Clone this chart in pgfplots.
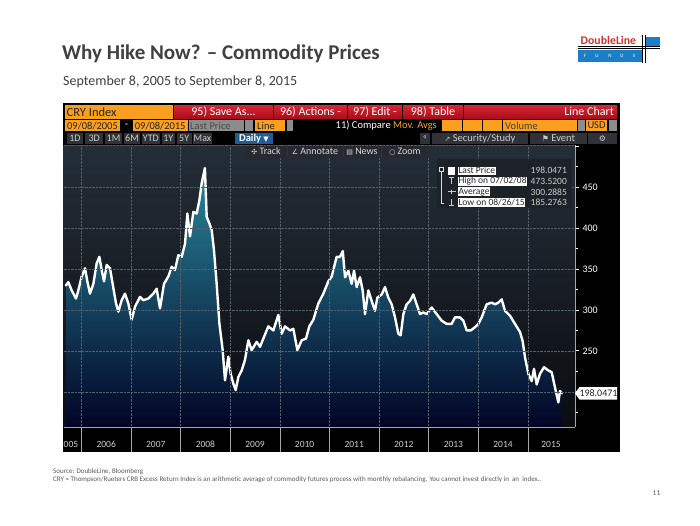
\documentclass[border=0pt]{standalone}
\usepackage{pgfplots}
\pgfplotsset{compat=1.18}
\usepackage{pgfplotstable}
\usepackage{fontspec}
\setmainfont{Carlito}
\newfontfamily\dejavu{DejaVu Sans}
\newcommand{\fs}[1]{\fontsize{#1}{#1}\selectfont}
\definecolor{titlegray}{RGB}{64,64,64}
\definecolor{bbredtop}{RGB}{214,40,54}
\definecolor{bbredbot}{RGB}{170,12,26}
\definecolor{bborange}{RGB}{250,160,30}
\definecolor{bbgray}{RGB}{140,140,140}
\definecolor{bbbtn}{RGB}{48,50,55}
\definecolor{bbtext}{RGB}{205,205,205}
\definecolor{bbblue}{RGB}{32,92,150}
\definecolor{plottop}{RGB}{36,46,56}
\definecolor{plotbot}{RGB}{10,12,16}
\definecolor{filltop}{RGB}{40,135,155}
\definecolor{fillmid}{RGB}{14,62,92}
\definecolor{fillbot}{RGB}{2,4,38}
\definecolor{gridc}{RGB}{85,95,105}
\definecolor{dlred}{RGB}{217,49,43}
\definecolor{dlblue}{RGB}{26,127,200}
\definecolor{footgray}{RGB}{89,89,89}
\definecolor{tbar}{RGB}{38,42,48}
\definecolor{legbg}{RGB}{28,34,40}

\pgfplotstableread{
year value
2005.686 330
2005.737 334
2005.804 324
2005.891 314
2005.938 324
2006.005 341
2006.073 351
2006.120 335
2006.173 320
2006.241 332
2006.308 357
2006.362 365
2006.409 349
2006.456 335
2006.509 355
2006.577 351
2006.630 332
2006.698 308
2006.745 298
2006.812 312
2006.879 320
2006.946 308
2007.013 288
2007.081 304
2007.181 316
2007.249 312
2007.349 314
2007.450 320
2007.517 326
2007.585 302
2007.665 332
2007.753 341
2007.820 353
2007.887 349
2007.954 367
2008.022 365
2008.089 381
2008.136 418
2008.190 390
2008.257 420
2008.324 418
2008.378 434
2008.425 455
2008.490 473.5
2008.526 414
2008.579 406
2008.626 398
2008.673 373
2008.727 332
2008.781 284
2008.848 251
2008.895 214
2008.962 243
2009.009 222
2009.063 210
2009.110 202
2009.164 218
2009.231 226
2009.298 239
2009.366 263
2009.433 251
2009.534 261
2009.601 255
2009.681 267
2009.769 280
2009.870 275
2009.970 294
2010.038 271
2010.105 280
2010.206 275
2010.273 277
2010.354 251
2010.441 263
2010.528 265
2010.595 280
2010.676 288
2010.777 308
2010.878 320
2010.978 335
2011.046 341
2011.146 365
2011.214 365
2011.270 372
2011.315 340
2011.382 348
2011.449 332
2011.496 348
2011.550 328
2011.617 340
2011.671 324
2011.718 295
2011.785 324
2011.852 311
2011.919 299
2011.966 315
2012.054 319
2012.121 328
2012.188 315
2012.255 307
2012.323 291
2012.390 271
2012.437 269
2012.491 295
2012.558 307
2012.625 311
2012.692 319
2012.759 307
2012.827 295
2012.894 297
2012.961 295
2013.062 303
2013.163 295
2013.263 287
2013.364 283
2013.465 283
2013.532 291
2013.633 291
2013.700 287
2013.768 275
2013.848 275
2013.936 279
2014.003 283
2014.070 291
2014.171 307
2014.271 309
2014.339 307
2014.406 309
2014.473 313
2014.540 299
2014.641 293
2014.742 283
2014.843 273
2014.896 262
2014.944 242
2015.011 222
2015.078 213
2015.125 228
2015.179 209
2015.246 222
2015.327 230
2015.414 226
2015.481 224
2015.549 205
2015.616 187
2015.649 201
2015.686 198.05
}\cry

\begin{document}
\begin{tikzpicture}
\begin{scope}[x=1pt,y=-1pt]
\fill[white] (0,0) rectangle (700,525);
% titles
\node[anchor=base west, text=titlegray, font=\fs{21}\bfseries, inner sep=0] at (62,59) {Why Hike Now? – Commodity Prices};
\node[anchor=base west, text=titlegray, font=\fs{14}, inner sep=0] at (63,85.5) {September 8, 2005 to September 8, 2015};
% logo
\node[anchor=base west, text=dlred, font=\fs{11.8}\bfseries, inner sep=0] at (580.5,44.8) {DoubleLine};
\node[text=dlred, font=\fs{4}, inner sep=0] at (641.5,37.5) {®};
\fill[dlblue] (645,36.5) rectangle (659.5,46.5);
\fill[dlblue] (578,50) rectangle (642,61.5);
\foreach \xx/\ll in {585/F,597/U,610/N,622/D,634/S}
  \node[text=white, font=\fs{5}, inner sep=0] at (\xx,55.8) {\ll};
\draw[black, line width=0.6pt] (578,46.6) -- (660,46.6);
\draw[black, line width=0.6pt] (578,48.6) -- (660,48.6);
\draw[black, line width=0.6pt] (642.6,34.5) -- (642.6,62.5);
\draw[black, line width=0.6pt] (645,34.5) -- (645,62.5);
% bloomberg panel
\fill[black] (63,103) rectangle (620,452);
% row 1
\fill[bborange] (65,105) rectangle (173,118.5);
\node[anchor=west, text=black!85, font=\fs{12.5}, inner sep=0] at (66.5,111.8) {CRY Index};
\foreach \a/\b/\t in {174/273/{95) Save As...},274/347/{96) Actions -},348/402/{97) Edit -},403/463/{98) Table}}{
  \shade[top color=bbredtop, bottom color=bbredbot] (\a,105) rectangle (\b,118.5);
  \node[text=white, font=\fs{12}, inner sep=0] at ({(\a+\b)/2},111.8) {\t};
}
\shade[top color=bbredtop, bottom color=bbredbot] (464,105) rectangle (617,118.5);
\node[anchor=east, text=white, font=\fs{12}, inner sep=0] at (614,111.8) {Line Chart};
% row 2
\fill[bborange] (65,120) rectangle (120,131);
\node[text=black!85, font=\fs{10.5}, inner sep=0] at (92.5,125.6) {09/08/2005};
\node[text=bborange, font=\fs{10.5}\bfseries, inner sep=0] at (126.5,125.3) {-};
\fill[bborange] (133,120) rectangle (187.5,131);
\node[text=black!85, font=\fs{10.5}, inner sep=0] at (160.2,125.6) {09/08/2015};
\fill[bbgray] (188.5,120) rectangle (243.5,131);
\node[anchor=west, text=black!70, font=\fs{10.5}, inner sep=0] at (190,125.6) {Last Price};
\fill[bbgray] (245,120) rectangle (253,131);
\fill[bborange] (255,120) rectangle (285,131);
\node[anchor=west, text=black!85, font=\fs{10.5}, inner sep=0] at (257,125.6) {Line};
\fill[bbgray] (287,120) rectangle (293,131);
\node[anchor=east, font=\fs{10.5}, inner sep=0] at (437,125.6) {\textcolor{white}{11) Compare} \textcolor{bborange}{Mov. Avgs}};
\fill[bborange] (441.7,120) rectangle (461.7,131);
\fill[bborange] (463,120) rectangle (481.7,131);
\fill[bborange] (483,120) rectangle (501.7,131);
\fill[bborange] (503,120) rectangle (576.7,131);
\node[anchor=west, text=black!75, font=\fs{10.5}, inner sep=0] at (505,125.6) {Volume};
\fill[bbgray] (578,120) rectangle (585,131);
\fill[bborange] (586,120) rectangle (607,131);
\node[text=black!85, font=\fs{10.5}, inner sep=0] at (596.5,125.6) {USD};
\fill[bbgray] (609,120) rectangle (617,131);
% row 3
\foreach \a/\b/\t in {66.7/83.3/1D,85/103.3/3D,105/122/1M,124/140/6M,141.7/160/YTD,161.7/175/1Y,176.7/191.7/5Y,193/212/Max}{
  \fill[bbbtn] (\a,132.5) rectangle (\b,143.5);
  \node[text=bbtext, font=\fs{10}, inner sep=0] at ({(\a+\b)/2},138.2) {\t};
}
\fill[bbblue] (235,132.5) rectangle (273.3,143.5);
\node[text=white, font=\fs{10.5}\bfseries, inner sep=0] at (254,138.2) {Daily {\dejavu\fs{7}▼}};
\fill[bbbtn] (420,132.5) rectangle (430,143.5);
\node[text=bbtext, font=\fs{9}, inner sep=0] at (425,138) {«};
\fill[bbbtn] (431.7,132.5) rectangle (528,143.5);
\node[text=bbtext, font=\fs{10.5}, inner sep=0] at (480,138.2) {{\dejavu\fs{7}↗} Security/Study};
\fill[bbbtn] (530,132.5) rectangle (587,143.5);
\node[text=bbtext, font=\fs{10.5}, inner sep=0] at (558.5,138.2) {{\dejavu\fs{8}⚑} Event};
\fill[bbbtn] (588,132.5) rectangle (617,143.5);
\node[text=bbtext, font=\dejavu\fs{8}, inner sep=0] at (602.5,138.2) {⚙};
% plot background
\shade[top color=plottop, bottom color=plotbot] (63.5,145) rectangle (575,427);
\draw[gridc, densely dotted] (63.5,145.3) -- (575,145.3);
\end{scope}

\begin{axis}[
  at={(63.5pt,-427pt)}, anchor=south west,
  width=511.5pt, height=282pt, scale only axis,
  xmin=2005.639, xmax=2015.9516, ymin=156.9, ymax=501.77,
  axis x line*=bottom, axis y line*=right,
  axis line style={draw=gray!70, line width=0.8pt},
  xtick={2006,...,2015}, xticklabels={}, xtick style={draw=none},
  xmajorgrids, ymajorgrids,
  grid style={gridc, densely dotted, line width=0.5pt},
  ytick={200,250,...,450},
  yticklabels={,250,300,350,400,450},
  extra y ticks={500}, extra y tick labels={}, extra y tick style={grid=none},
  minor ytick={175,225,...,475},
  tick align=outside, major tick length=4pt, minor tick length=3pt,
  ytick style={white, line width=0.8pt},
  yticklabel style={text=white, font=\fs{10}},
  axis on top,
]
\addplot[draw=none, top color=filltop, middle color=fillmid, bottom color=fillbot] table[x=year,y=value] {\cry} |- (axis cs:2005.686,156.9) -- cycle;
\addplot[white, line width=2.4pt, line join=round, line cap=round] table[x=year,y=value] {\cry};
\end{axis}

\begin{scope}[x=1pt,y=-1pt]
% toolbar
\fill[tbar] (246,145.5) rectangle (429,157.5);
\foreach \xx in {287,343,381} \draw[black!80] (\xx,146) -- (\xx,157);
\node[text=bbtext!80, font=\fs{10}, inner sep=0] at (266,151.5) {{\dejavu\fs{7}✣} Track};
\node[text=bbtext!80, font=\fs{10}, inner sep=0] at (315,151.5) {{\dejavu\fs{7}∠} Annotate};
\node[text=bbtext!80, font=\fs{10}, inner sep=0] at (362,151.5) {{\dejavu\fs{7}▤} News};
\node[text=bbtext!80, font=\fs{10}, inner sep=0] at (405,151.5) {{\dejavu\fs{7}○} Zoom};
% legend box
\fill[legbg, rounded corners=2pt] (436.7,159) rectangle (571.7,208);
\draw[bbtext!70, line width=0.4pt] (439.5,167.5) rectangle (443.5,171.5);
\draw[bbtext!70, line width=0.4pt] (441.5,171.5) -- (441.5,203) -- (444,203);
\fill[white] (447.5,167) rectangle (455,174.5);
\draw[bbtext, line width=0.6pt] (449,177.5) -- (454,177.5) (451.5,177.5) -- (451.5,184);
\draw[bbtext, line width=0.6pt] (447.5,191.7) -- (455.5,191.7) (451.5,189.5) -- (451.5,194);
\draw[bbtext, line width=0.6pt] (451.5,199) -- (451.5,205.5) (449,205.5) -- (454,205.5);
\foreach \yy/\t/\v in {170.7/{Last Price}/198.0471,181.3/{High on 07/02/08}/473.5200,191.9/{Average}/300.2885,202.5/{Low on 08/26/15}/185.2763}{
  \node[anchor=west, fill=white, text=black!85, font=\fs{9.5}, inner sep=0.6pt] at (457.7,\yy) {\t};
  \node[anchor=east, text=bbtext, font=\fs{9.5}, inner sep=0] at (567,\yy) {\v};
}
% last price label
\fill[white] (575,393.3) -- (579.5,387) -- (617,387) -- (617,399.6) -- (579.5,399.6) -- cycle;
\node[text=black!85, font=\fs{10}, inner sep=0] at (598.5,393.3) {198.0471};
% year band
\foreach \xx in {81.4,131.0,180.6,230.2,279.8,329.4,379.0,428.6,478.2,527.8}
  \draw[gray!70, line width=0.6pt] (\xx,427) -- (\xx,452);
\begin{scope}
\clip (63.5,427) rectangle (620,452);
\node[text=bbtext, font=\fs{9.5}, inner sep=0] at (68.5,444.5) {2005};
\foreach \xx/\t in {106.2/2006,155.8/2007,205.4/2008,255.0/2009,304.6/2010,354.2/2011,403.8/2012,453.4/2013,503.0/2014,551/2015}
  \node[text=bbtext, font=\fs{9.5}, inner sep=0] at (\xx,444.5) {\t};
\end{scope}
% footer
\node[anchor=base west, text=footgray, font=\fs{7}, inner sep=0] at (53,473.5) {Source: DoubleLine, Bloomberg};
\node[anchor=base west, text=footgray, font=\fs{7}, inner sep=0] at (53,481) {CRY = Thompson/Rueters CRB Excess Return Index is an arithmetic average of commodity futures process with monthly rebalancing. You cannot invest directly in\ \ an\ \ index..};
\node[text=footgray, font=\fs{7.5}, inner sep=0] at (656.5,493) {11};
\end{scope}
\end{tikzpicture}
\end{document}
